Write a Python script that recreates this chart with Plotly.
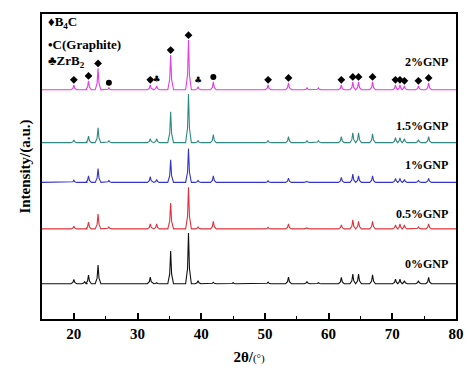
import plotly.graph_objects as go

# 2θ positions of the diffraction peaks (shared by all patterns)
peak_pos = [20.0, 21.7, 22.3, 23.8, 25.5, 32.0, 33.0, 35.2, 38.0, 39.5, 41.9, 45.0,
            50.5, 53.7, 56.6, 58.4, 62.0, 63.8, 64.7, 66.9, 70.5, 71.2, 71.9, 74.1, 75.7]

# peak heights (a.u.) for each sample
h_0   = [4.3, 2, 8.7, 18.7, 0.5, 6.7, 1, 33, 51, 3, 1.5, 1, 1.7, 6.7, 2, 1, 6.3, 9.7, 9.7, 9, 4.7, 4.7, 3, 3, 6.3]
h_05  = [2.7, 0, 6.7, 15, 2, 5, 5, 26, 42, 2, 7.5, 0.5, 1.5, 5, 1, 0.5, 4, 9, 7.7, 7.7, 4, 5, 4, 2, 5]
h_1   = [2.3, 0, 6.7, 14, 2, 5.7, 3, 22.7, 34, 2, 6.7, 0.5, 1.5, 4.3, 1, 0.5, 5, 8.3, 6.7, 6.7, 4, 4, 3, 2, 4]
h_15  = [2.7, 0, 6.7, 15, 2, 4, 4, 31, 49, 2, 8, 0.5, 2, 6, 2, 2, 6, 10, 10, 9, 5, 5, 4, 3, 6]
h_2   = [5, 0, 9, 21.6, 2, 5, 4, 35, 50, 3, 8, 0.5, 5, 7, 2, 2, 5, 8, 8, 8, 5, 5, 4, 4, 7]

labels = ["0%GNP", "0.5%GNP", "1%GNP", "1.5%GNP", "2%GNP"]
heights = [h_0, h_05, h_1, h_15, h_2]
offsets = [35.5, 90.7, 137.5, 177.5, 230.7]
label_gap = [20, 15, 17.5, 16.5, 28]
colors = ["#111111", "#e0323c", "#3434c8", "#2e8a80", "#e23ee2"]

# phase identification of peaks in the 2% pattern
b4c_pos = [20.0, 22.3, 23.8, 32.0, 35.2, 38.0, 50.5, 53.7, 62.0, 63.8, 64.7, 66.9,
           70.5, 71.2, 71.9, 74.1, 75.7]
graphite_pos = [25.5, 41.9]
zrb2_pos = [33.0, 39.5]

X_MIN, X_MAX = 15, 80

fig = go.Figure()


def polyline(hs, off):
    xs, ys = [X_MIN], [off]
    for p, h in zip(peak_pos, hs):
        xs += [p - 0.45, p - 0.15, p, p + 0.15, p + 0.45]
        ys += [off, off + 0.3 * h, off + h, off + 0.3 * h, off]
    xs.append(X_MAX)
    ys.append(off)
    return xs, ys


for lab, hs, off, col in zip(labels, heights, offsets, colors):
    xs, ys = polyline(hs, off)
    fig.add_trace(go.Scatter(x=xs, y=ys, mode="lines", line=dict(color=col, width=1.1),
                             name=lab, showlegend=False, hoverinfo="skip"))

top_h = dict(zip(peak_pos, h_2))
top_off = offsets[-1]
fig.add_trace(go.Scatter(x=b4c_pos, y=[top_off + top_h[p] + 5 for p in b4c_pos],
                         mode="markers", marker=dict(symbol="diamond", size=6, color="black"),
                         showlegend=False, hoverinfo="skip"))
fig.add_trace(go.Scatter(x=graphite_pos, y=[top_off + top_h[p] + 5 for p in graphite_pos],
                         mode="markers", marker=dict(symbol="circle", size=6, color="black"),
                         showlegend=False, hoverinfo="skip"))
fig.add_trace(go.Scatter(x=zrb2_pos, y=[top_off + top_h[p] + 6 for p in zrb2_pos],
                         mode="text", text=["♣"] * len(zrb2_pos),
                         textfont=dict(size=9, color="black", family="DejaVu Sans"),
                         showlegend=False, hoverinfo="skip"))

SERIF = "Liberation Serif"
for lab, off, gap in zip(labels, offsets, label_gap):
    fig.add_annotation(x=79.1, y=off + gap, xref="x", yref="y", text="<b>" + lab + "</b>",
                       showarrow=False, xanchor="right", yanchor="middle",
                       font=dict(family=SERIF, size=12, color="black"))

legend_items = ["♦<b>B<sub>4</sub>C</b>", "<b>•C(Graphite)</b>", "♣<b>ZrB<sub>2</sub></b>"]
legend_y = [0.971, 0.899, 0.844]
for txt, yy in zip(legend_items, legend_y):
    fig.add_annotation(x=0.01, y=yy, xref="paper", yref="paper", text=txt, showarrow=False,
                       xanchor="left", yanchor="middle",
                       font=dict(family=SERIF, size=13, color="black"))

# page body has an 8px margin: size and margins compensate for it
fig.update_layout(
    width=466, height=368,
    margin=dict(l=34, r=18, t=4, b=57),
    paper_bgcolor="white", plot_bgcolor="white",
    font=dict(family=SERIF, color="black"),
    xaxis=dict(range=[X_MIN, X_MAX], tickvals=[20, 30, 40, 50, 60, 70, 80],
               ticks="inside", ticklen=6, tickwidth=1.5, tickcolor="black",
               minor=dict(dtick=5, ticks="inside", ticklen=3, tickwidth=1.2, tickcolor="black"),
               showline=True, linecolor="black", linewidth=2, mirror=True,
               showgrid=False, zeroline=False,
               tickfont=dict(family=SERIF, size=15, color="black", weight="bold"),
               title=dict(text="<b>2θ/</b><span style='font-size:11px'>(°)</span>",
                          font=dict(family=SERIF, size=15, color="black"), standoff=10)),
    yaxis=dict(range=[0, 307], showticklabels=False, ticks="",
               showline=True, linecolor="black", linewidth=2, mirror=True,
               showgrid=False, zeroline=False,
               title=dict(text="<b>Intensity/(a.u.)</b>",
                          font=dict(family=SERIF, size=15, color="black"), standoff=6)),
)

fig.write_html("out.html")
